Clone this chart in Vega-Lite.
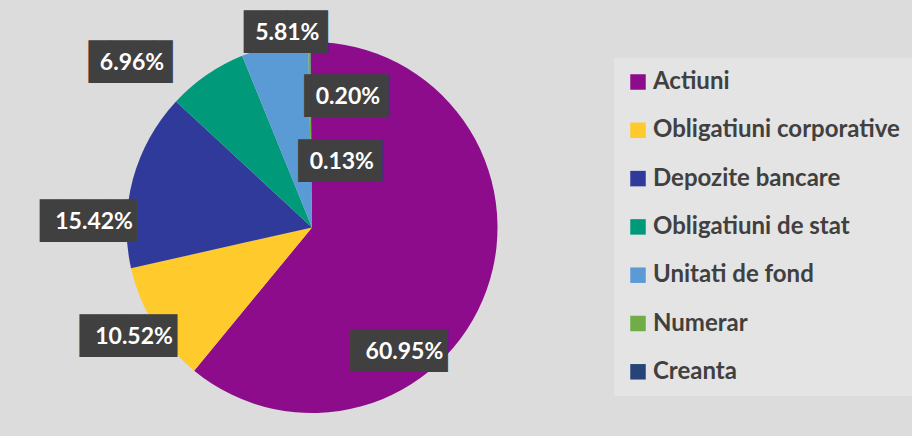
{
  "$schema": "https://vega.github.io/schema/vega-lite/v6.json",
  "width": 624,
  "height": 455,
  "padding": 0,
  "autosize": {"type": "pad"},
  "background": "#dcdcdc",
  "view": {"stroke": null},
  "data": {
    "values": [
      {"asset": "Actiuni", "share": 0.6095, "order": 1},
      {"asset": "Obligatiuni corporative", "share": 0.1052, "order": 2},
      {"asset": "Depozite bancare", "share": 0.1542, "order": 3},
      {"asset": "Obligatiuni de stat", "share": 0.0696, "order": 4},
      {"asset": "Unitati de fond", "share": 0.0581, "order": 5},
      {"asset": "Numerar", "share": 0.0020, "order": 6},
      {"asset": "Creanta", "share": 0.0013, "order": 7}
    ]
  },
  "encoding": {
    "theta": {"field": "share", "type": "quantitative", "stack": true},
    "order": {"field": "order", "type": "quantitative", "sort": "ascending"},
    "detail": {"field": "asset", "type": "nominal"}
  },
  "layer": [
    {
      "mark": {"type": "arc", "radius": 185.5},
      "encoding": {
        "color": {
          "field": "asset",
          "type": "nominal",
          "scale": {
            "domain": ["Actiuni", "Obligatiuni corporative", "Depozite bancare", "Obligatiuni de stat", "Unitati de fond", "Numerar", "Creanta"],
            "range": ["#8C0C8C", "#FFCA2C", "#2F3A9B", "#00997A", "#5B9BD5", "#70AD47", "#264478"]
          },
          "legend": {
            "title": null,
            "orient": "none",
            "legendX": 614,
            "legendY": 58,
            "symbolType": "square",
            "symbolSize": 240,
            "symbolStrokeWidth": 0,
            "labelFont": "Lato",
            "labelFontWeight": "bold",
            "labelFontSize": 24,
            "labelColor": "#404040",
            "labelOffset": 3,
            "labelLimit": 400,
            "rowPadding": 24.3,
            "padding": 12,
            "fillColor": "#e4e4e4"
          }
        }
      }
    },
    {
      "mark": {
        "type": "text",
        "font": "DejaVu Sans Mono",
        "fontSize": 36,
        "align": "center",
        "baseline": "middle",
        "color": "#404040",
        "radius": {"expr": "[155,209,218,244,196,135,72][datum.order-1]"},
        "thetaOffset": {"expr": "[0.588,0,-0.237,-0.225,0.077,0.284,0.431][datum.order-1]"},
        "text": {"expr": "datum.share >= 0.1 ? '████▌' : '███▉'"}
      }
    },
    {
      "mark": {
        "type": "text",
        "font": "Lato",
        "fontWeight": "bold",
        "fontSize": 23,
        "align": "center",
        "baseline": "middle",
        "color": "#ffffff",
        "radius": {"expr": "[155,209,218,244,196,135,72][datum.order-1]"},
        "thetaOffset": {"expr": "[0.588,0,-0.237,-0.225,0.077,0.284,0.431][datum.order-1]"}
      },
      "encoding": {
        "text": {"field": "share", "type": "quantitative", "format": ".2%"}
      }
    }
  ]
}
